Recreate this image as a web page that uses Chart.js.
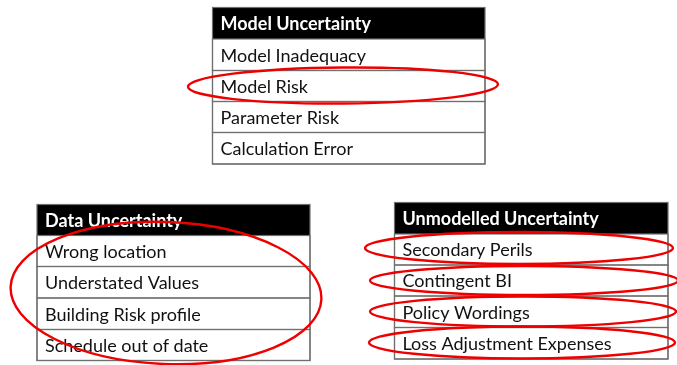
<!DOCTYPE html>
<html>
<head>
<meta charset="utf-8">
<script src="https://cdn.jsdelivr.net/npm/chart.js@4"></script>
<style>
  html, body { margin: 0; padding: 0; background: #fff; }
  #wrap { width: 677px; height: 365px; position: relative; }
</style>
</head>
<body>
<div id="wrap"><canvas id="c"></canvas></div>
<script>
"use strict";

// contenu des tableaux
const titres = ["Model Uncertainty", "Data Uncertainty", "Unmodelled Uncertainty"];
const lignesModel = ["Model Inadequacy", "Model Risk", "Parameter Risk", "Calculation Error"];
const lignesData = ["Wrong location", "Understated Values", "Building Risk profile", "Schedule out of date"];
const lignesUnmodelled = ["Secondary Perils", "Contingent BI", "Policy Wordings", "Loss Adjustment Expenses"];
// lignes entourées (index), -1 = tout le tableau
const entoureModel = [1];
const entoureData = [-1];
const entoureUnmodelled = [0, 1, 2, 3];

// mise en page (coordonnées dans l'espace des axes)
const dispositions = [
  { x0: 212.5, x1: 485, y0: 7.5, lignes: [39, 70.5, 101.5, 132.5, 164] },
  { x0: 37, x1: 310, y0: 204.5, lignes: [235.5, 266.5, 298, 329.5, 360.5] },
  { x0: 394.5, x1: 668, y0: 202.5, lignes: [234, 265, 296, 327.5, 359] }
];
const ellipses = [
  [{ cx: 343, cy: 85.5, rx: 155, ry: 18, rot: -0.008 }],
  [{ cx: 166, cy: 293, rx: 155.5, ry: 71, rot: 0.04 }],
  [{ cx: 519, cy: 248, rx: 154, ry: 16, rot: 0 },
   { cx: 524, cy: 280.5, rx: 154, ry: 14.5, rot: 0 },
   { cx: 523, cy: 311.5, rx: 153, ry: 15, rot: 0 },
   { cx: 522, cy: 342.5, rx: 153, ry: 16, rot: 0 }]
];

const tableaux = [
  { titre: titres[0], lignes: lignesModel, entoure: entoureModel },
  { titre: titres[1], lignes: lignesData, entoure: entoureData },
  { titre: titres[2], lignes: lignesUnmodelled, entoure: entoureUnmodelled }
];

const police = "Lato, 'Open Sans', sans-serif";

const pluginTableaux = {
  id: 'tableaux',
  afterDatasetsDraw(chart) {
    const ctx = chart.ctx;
    const sx = chart.scales.x, sy = chart.scales.y;
    const px = v => sx.getPixelForValue(v);
    const py = v => sy.getPixelForValue(v);

    tableaux.forEach((t, i) => {
      const d = dispositions[i];
      const gauche = px(d.x0), droite = px(d.x1);
      const bords = [d.y0].concat(d.lignes).map(py);

      // entête noire
      ctx.save();
      ctx.fillStyle = '#000';
      ctx.fillRect(gauche, bords[0], droite - gauche, bords[1] - bords[0]);
      ctx.fillStyle = '#fff';
      ctx.font = "bold 18px " + police;
      ctx.textBaseline = 'middle';
      ctx.fillText(t.titre, gauche + 8, (bords[0] + bords[1]) / 2 + 1);

      // cellules
      ctx.strokeStyle = '#6f6f6f';
      ctx.lineWidth = 1.2;
      ctx.font = "18px " + police;
      ctx.fillStyle = '#111';
      t.lignes.forEach((txt, k) => {
        const haut = bords[k + 1], bas = bords[k + 2];
        ctx.strokeRect(gauche, haut, droite - gauche, bas - haut);
        ctx.fillText(txt, gauche + 8, (haut + bas) / 2 + 1);
      });
      ctx.strokeRect(gauche, bords[0], droite - gauche, bords[bords.length - 1] - bords[0]);
      ctx.restore();
    });

    // ellipses rouges
    tableaux.forEach((t, i) => {
      ellipses[i].forEach(e => {
        const cx = px(e.cx), cy = py(e.cy);
        const rx = Math.abs(px(e.cx + e.rx) - cx);
        const ry = Math.abs(py(e.cy + e.ry) - cy);
        ctx.save();
        ctx.strokeStyle = '#ee0000';
        ctx.lineWidth = 2.4;
        ctx.beginPath();
        ctx.ellipse(cx, cy, rx, ry, e.rot, 0, Math.PI * 2);
        ctx.stroke();
        ctx.restore();
      });
    });
  }
};

const chart = new Chart(document.getElementById('c'), {
  type: 'scatter',
  data: { datasets: [{ data: [], pointRadius: 0 }] },
  options: {
    responsive: true,
    maintainAspectRatio: false,
    animation: false,
    layout: { padding: 0 },
    plugins: { legend: { display: false }, tooltip: { enabled: false } },
    scales: {
      x: { type: 'linear', min: 0, max: 677, display: false },
      y: { type: 'linear', min: 0, max: 365, reverse: true, display: false }
    }
  },
  plugins: [pluginTableaux]
});
</script>
</body>
</html>
